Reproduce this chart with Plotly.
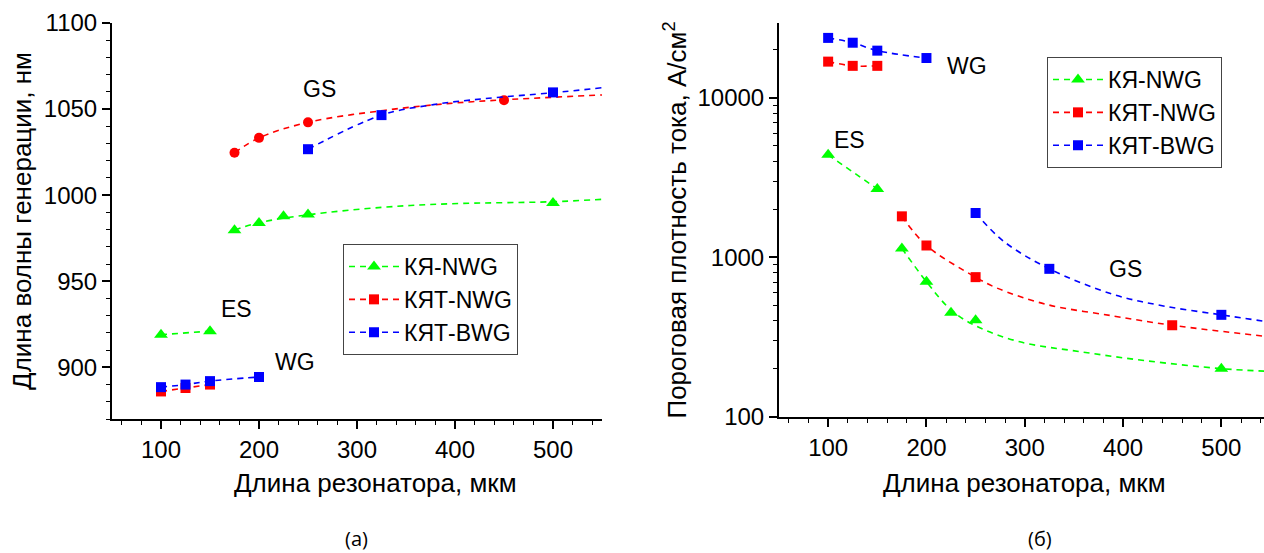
import math
import plotly.graph_objects as go

# ---------------- panel (a): lasing wavelength vs cavity length ----------------
# КЯ-NWG, excited state
a_qw_es_L = [100, 150]
a_qw_es_lam = [919, 921]
# КЯ-NWG, ground state
a_qw_gs_L = [175, 200, 225, 250, 500]
a_qw_gs_lam = [979.7, 983.9, 987.8, 988.8, 995.5]
a_qw_gs_fit_L = [175, 200, 250, 327, 395, 500, 550]
a_qw_gs_fit_lam = [979.7, 984.0, 988.6, 993.0, 995.0, 996.2, 997.6]
# КЯТ-NWG, waveguide mode
a_qwt_n_wg_L = [100, 125, 150]
a_qwt_n_wg_lam = [886, 888, 890]
# КЯТ-NWG, ground state
a_qwt_n_gs_L = [175, 200, 250, 450]
a_qwt_n_gs_lam = [1024.6, 1033.3, 1042.3, 1055.2]
a_qwt_n_gs_fit_L = [175, 200, 250, 327, 395, 450, 550]
a_qwt_n_gs_fit_lam = [1024.6, 1033.3, 1042.3, 1049.2, 1053.3, 1055.4, 1058.2]
# КЯТ-BWG, waveguide mode
a_qwt_b_wg_L = [100, 125, 150, 200]
a_qwt_b_wg_lam = [888.5, 890, 892, 894.4]
# КЯТ-BWG, ground state
a_qwt_b_gs_L = [250, 325, 500]
a_qwt_b_gs_lam = [1026.7, 1046.5, 1059.7]
a_qwt_b_gs_fit_L = [250, 325, 378, 429, 500, 550]
a_qwt_b_gs_fit_lam = [1026.7, 1046.5, 1052.6, 1056.0, 1059.5, 1062.4]

# ---------------- panel (б): threshold current density vs cavity length ----------------
b_qw_es_L = [100, 150]
b_qw_es_j = [4400, 2690]
b_qw_gs_L = [175, 200, 225, 250, 500]
b_qw_gs_j = [1140, 705, 451, 404, 201]
b_qw_gs_fit_L = [175, 200, 225, 250, 295, 356, 424, 500, 550]
b_qw_gs_fit_j = [1140, 705, 469, 373, 296, 257, 225, 201, 193]
b_qwt_n_wg_L = [100, 125, 150]
b_qwt_n_wg_j = [16900, 15900, 15900]
b_qwt_n_gs_L = [175, 200, 250, 450]
b_qwt_n_gs_j = [1811, 1189, 753, 376]
b_qwt_n_gs_fit_L = [175, 200, 250, 271, 322, 390, 450, 550]
b_qwt_n_gs_fit_j = [1811, 1189, 753, 646, 508, 430, 376, 318]
b_qwt_b_wg_L = [100, 125, 150, 200]
b_qwt_b_wg_j = [23800, 22200, 19800, 17800]
b_qwt_b_gs_L = [250, 325, 500]
b_qwt_b_gs_j = [1901, 849, 437]
b_qwt_b_gs_fit_L = [250, 278.5, 325, 390, 441, 500, 550]
b_qwt_b_gs_fit_j = [1901, 1264, 849, 587, 497, 437, 393]

series_names = ["КЯ-NWG", "КЯТ-NWG", "КЯТ-BWG"]
x_title = "Длина резонатора, мкм"
GREEN, RED, BLUE = "#00FF00", "#FF0000", "#0000FF"
DASH = "6px,5px"
FONT = "Liberation Sans, Arial, sans-serif"
FS_TICK = 24
FS_TITLE = 26
FS_LEG = 23
FS_LABEL = 23

fig = go.Figure()


def dashed(x, y, color, xa, ya, name=None, legend=None, symbol=None, msize=10):
    mode = "lines+markers" if symbol else "lines"
    fig.add_trace(go.Scatter(
        x=x, y=y, mode=mode, xaxis=xa, yaxis=ya,
        name=name or "", showlegend=name is not None, legend=legend or "legend",
        line=dict(color=color, width=1.6, dash=DASH, shape="spline", smoothing=1.0),
        marker=dict(symbol=symbol or "square", size=msize, color=color),
        hoverinfo="skip"))


def points(x, y, color, xa, ya, symbol, msize=10):
    fig.add_trace(go.Scatter(
        x=x, y=y, mode="markers", xaxis=xa, yaxis=ya, showlegend=False,
        marker=dict(symbol=symbol, size=msize, color=color), hoverinfo="skip"))


# panel (a)
dashed(a_qw_es_L, a_qw_es_lam, GREEN, "x", "y", series_names[0], "legend", "triangle-up", 12)
dashed(a_qwt_n_wg_L, a_qwt_n_wg_lam, RED, "x", "y", series_names[1], "legend", "square", 10)
dashed(a_qwt_b_wg_L, a_qwt_b_wg_lam, BLUE, "x", "y", series_names[2], "legend", "square", 10)
dashed(a_qw_gs_fit_L, a_qw_gs_fit_lam, GREEN, "x", "y")
points(a_qw_gs_L, a_qw_gs_lam, GREEN, "x", "y", "triangle-up", 12)
dashed(a_qwt_n_gs_fit_L, a_qwt_n_gs_fit_lam, RED, "x", "y")
points(a_qwt_n_gs_L, a_qwt_n_gs_lam, RED, "x", "y", "circle", 10)
dashed(a_qwt_b_gs_fit_L, a_qwt_b_gs_fit_lam, BLUE, "x", "y")
points(a_qwt_b_gs_L, a_qwt_b_gs_lam, BLUE, "x", "y", "square", 10)

# panel (б)
dashed(b_qw_es_L, b_qw_es_j, GREEN, "x2", "y2", series_names[0], "legend2", "triangle-up", 12)
dashed(b_qwt_n_wg_L, b_qwt_n_wg_j, RED, "x2", "y2", series_names[1], "legend2", "square", 10)
dashed(b_qwt_b_wg_L, b_qwt_b_wg_j, BLUE, "x2", "y2", series_names[2], "legend2", "square", 10)
dashed(b_qw_gs_fit_L, b_qw_gs_fit_j, GREEN, "x2", "y2")
points(b_qw_gs_L, b_qw_gs_j, GREEN, "x2", "y2", "triangle-up", 12)
dashed(b_qwt_n_gs_fit_L, b_qwt_n_gs_fit_j, RED, "x2", "y2")
points(b_qwt_n_gs_L, b_qwt_n_gs_j, RED, "x2", "y2", "square", 10)
dashed(b_qwt_b_gs_fit_L, b_qwt_b_gs_fit_j, BLUE, "x2", "y2")
points(b_qwt_b_gs_L, b_qwt_b_gs_j, BLUE, "x2", "y2", "square", 10)

W, H = 1264, 553
ax_common = dict(showline=True, linecolor="black", linewidth=2, showgrid=False,
                 zeroline=False, tickcolor="black", tickwidth=1.5, automargin=False,
                 tickfont=dict(family=FONT, size=FS_TICK, color="black"))
minor_out = dict(ticks="outside", ticklen=4, tickwidth=1.2, tickcolor="black", showgrid=False)
minor_in = dict(ticks="inside", ticklen=4, tickwidth=1.2, tickcolor="black", showgrid=False)

xa_dom = [112 / W, 602 / W]
xb_dom = [779 / W, 1.0]
ya_dom = [1 - 419 / H, 1 - 23 / H]
yb_dom = [1 - 417 / H, 1 - 23 / H]
xa_range = [50, 550]
xb_range = [50, 50 + (W - 779) / 0.983]
ya_range = [870, 1100]
yb_range = [2, 4.47]

title_font = dict(family=FONT, size=FS_TITLE, color="black")
leg_common = dict(xanchor="left", yanchor="top", bgcolor="white", bordercolor="#444",
                  borderwidth=1, font=dict(family=FONT, size=FS_LEG, color="black"),
                  itemwidth=50, tracegroupgap=0)

fig.update_layout(
    width=W, height=H,
    margin=dict(l=0, r=0, t=0, b=0, pad=0, autoexpand=False),
    paper_bgcolor="white", plot_bgcolor="white", showlegend=True,
    xaxis=dict(domain=xa_dom, range=xa_range, anchor="y", ticks="outside", ticklen=8,
               tick0=0, dtick=100, minor=dict(dtick=20, **minor_out), **ax_common),
    yaxis=dict(domain=ya_dom, range=ya_range, anchor="x", ticks="outside", ticklen=8,
               tick0=0, dtick=50, minor=dict(dtick=10, **minor_out),
               title=dict(text="Длина волны генерации, нм", font=title_font, standoff=5),
               **ax_common),
    xaxis3=dict(overlaying="x", side="top", anchor="y", range=xa_range, ticks="inside",
                ticklen=7, tick0=0, dtick=100, showticklabels=False,
                minor=dict(dtick=20, **minor_in), **ax_common),
    yaxis3=dict(overlaying="y", side="right", anchor="x", range=ya_range, ticks="inside",
                ticklen=7, tick0=0, dtick=50, showticklabels=False,
                minor=dict(dtick=10, **minor_in), **ax_common),
    xaxis2=dict(domain=xb_dom, range=xb_range, anchor="y2", ticks="outside", ticklen=8,
                tick0=0, dtick=100, minor=dict(dtick=20, **minor_out), **ax_common),
    yaxis2=dict(domain=yb_dom, type="log", range=yb_range, anchor="x2", ticks="outside",
                ticklen=8, dtick=1, tickformat="d",
                minor=dict(dtick="D1", **minor_out),
                title=dict(text="Пороговая плотность тока, А/см<sup>2</sup>",
                           font=title_font, standoff=3),
                **ax_common),
    xaxis4=dict(overlaying="x2", side="top", anchor="y2", range=xb_range, ticks="inside",
                ticklen=7, tick0=0, dtick=100, showticklabels=False,
                minor=dict(dtick=20, **minor_in), **ax_common),
    legend=dict(x=343 / W, y=1 - 244 / H, **leg_common),
    legend2=dict(x=1047 / W, y=1 - 57 / H, **leg_common),
)

# x-axis titles under each panel
for px in (375, 1024):
    fig.add_annotation(text=x_title, x=px / W, y=1 - 483 / H, xref="paper", yref="paper",
                       xanchor="center", yanchor="middle", showarrow=False, font=title_font)

# state labels (GS / ES / WG)
labels_a = [("GS", 262, 1061.6), ("ES", 177.5, 933.7), ("WG", 237, 903)]
labels_b = [("WG", 241, 15850), ("ES", 122, 5465), ("GS", 402, 841)]
for txt, x, y in labels_a:
    fig.add_annotation(text=txt, x=x, y=y, xref="x", yref="y", showarrow=False,
                       xanchor="center", yanchor="middle",
                       font=dict(family=FONT, size=FS_LABEL, color="black"))
for txt, x, y in labels_b:
    fig.add_annotation(text=txt, x=x, y=math.log10(y), xref="x2", yref="y2", showarrow=False,
                       xanchor="center", yanchor="middle",
                       font=dict(family=FONT, size=FS_LABEL, color="black"))

# panel captions
captions = [("(a)", 356), ("(б)", 1040)]
for txt, px in captions:
    fig.add_annotation(text=txt, x=px / W, y=1 - 538 / H, xref="paper", yref="paper",
                       xanchor="center", yanchor="middle", showarrow=False, borderpad=0,
                       font=dict(family="Open Sans, sans-serif", size=20, color="black"))

fig.write_html("out.html")
